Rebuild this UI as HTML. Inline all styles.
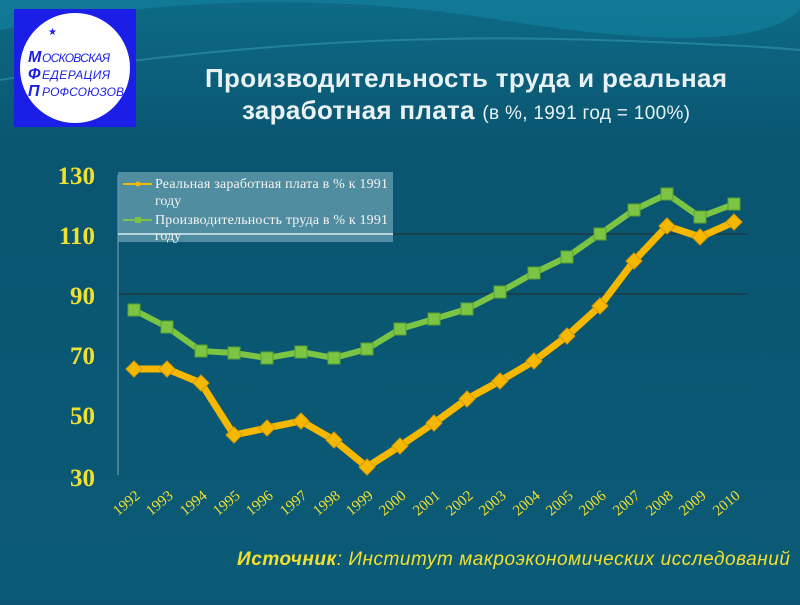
<!DOCTYPE html>
<html><head><meta charset="utf-8"><style>
body{margin:0;width:800px;height:600px;overflow:hidden;background:#0b5573;font-family:"Liberation Sans",sans-serif}
</style></head><body>
<svg width="800" height="600" xmlns="http://www.w3.org/2000/svg">
<defs>
<linearGradient id="bg" x1="0" y1="0" x2="0" y2="1"><stop offset="0" stop-color="#0d6a86"/><stop offset="0.25" stop-color="#0a5570"/><stop offset="1" stop-color="#0b5a76"/></linearGradient>
</defs>
<rect width="800" height="600" fill="url(#bg)"/>
<path d="M0 30 Q250 -20 500 20 T800 10 L800 0 L0 0Z" fill="#1483a0" opacity="0.6"/>
<path d="M0 80 Q300 30 600 40 T800 60" stroke="#3aa0b8" stroke-width="2" fill="none" opacity="0.5"/>
<rect x="14" y="9" width="122" height="118" fill="#1a1ee6"/>
<circle cx="75" cy="68" r="55" fill="#fff"/>
<text x="48" y="35" fill="#1a1ee6" font-size="10">★</text>
<text x="28" y="62" fill="#1a1ee6" font-size="16" font-weight="bold" font-style="italic">М</text><text x="42" y="62" fill="#1a1ee6" font-size="12" font-style="italic" textLength="68">ОСКОВСКАЯ</text>
<text x="28" y="79" fill="#1a1ee6" font-size="16" font-weight="bold" font-style="italic">Ф</text><text x="42" y="79" fill="#1a1ee6" font-size="12" font-style="italic" textLength="68">ЕДЕРАЦИЯ</text>
<text x="28" y="96" fill="#1a1ee6" font-size="16" font-weight="bold" font-style="italic">П</text><text x="42" y="96" fill="#1a1ee6" font-size="12" font-style="italic" textLength="82">РОФСОЮЗОВ</text>
<text x="205" y="87" fill="#e8f2f4" font-size="26" font-weight="bold" textLength="522">Производительность труда и реальная</text>
<text x="242" y="119" fill="#e8f2f4" font-size="26" font-weight="bold" textLength="448">заработная плата <tspan font-weight="normal" font-size="19">(в %, 1991 год = 100%)</tspan></text>
<line x1="118" y1="234" x2="748" y2="234" stroke="#1c3a44" stroke-width="1.5"/>
<line x1="118" y1="294" x2="748" y2="294" stroke="#1c3a44" stroke-width="1.5"/>
<line x1="118" y1="175" x2="118" y2="475" stroke="#7fa8b6" stroke-width="1"/>
<g fill="#f0e030" font-family="Liberation Serif,serif" font-size="25" font-weight="bold" text-anchor="end">
<text x="95" y="184">130</text><text x="95" y="244">110</text><text x="95" y="304">90</text><text x="95" y="364">70</text><text x="95" y="424">50</text><text x="95" y="486">30</text></g>
<rect x="118" y="172" width="275" height="70" fill="#6aa0b0" opacity="0.75"/>
<line x1="118" y1="234" x2="393" y2="234" stroke="#d8eef2" stroke-width="1.5"/>
<line x1="123" y1="184" x2="152" y2="184" stroke="#f5b800" stroke-width="2"/><circle cx="138" cy="184" r="2.5" fill="#f5b800"/>
<line x1="123" y1="220" x2="152" y2="220" stroke="#7cc444" stroke-width="2"/><rect x="135" y="217" width="6" height="6" fill="#7cc444"/>
<g fill="#f4f4f4" font-family="Liberation Serif,serif" font-size="14"><text x="155" y="188" textLength="233">Реальная заработная плата в % к 1991</text><text x="155" y="205">году</text><text x="155" y="224" textLength="233">Производительность труда в % к 1991</text><text x="155" y="240">году</text></g>
<polyline fill="none" stroke="#7cc444" stroke-width="6" stroke-linejoin="round" points="134,310 167,327 201,351 234,353 267,358 301,352 334,358 367,349 400,329 434,319 467,309 500,292 534,273 567,257 600,234 634,210 667,194 700,217 734,204"/>
<g fill="#7cc444" stroke="#5aa030"><rect x="128" y="304" width="12" height="12"/><rect x="161" y="321" width="12" height="12"/><rect x="195" y="345" width="12" height="12"/><rect x="228" y="347" width="12" height="12"/><rect x="261" y="352" width="12" height="12"/><rect x="295" y="346" width="12" height="12"/><rect x="328" y="352" width="12" height="12"/><rect x="361" y="343" width="12" height="12"/><rect x="394" y="323" width="12" height="12"/><rect x="428" y="313" width="12" height="12"/><rect x="461" y="303" width="12" height="12"/><rect x="494" y="286" width="12" height="12"/><rect x="528" y="267" width="12" height="12"/><rect x="561" y="251" width="12" height="12"/><rect x="594" y="228" width="12" height="12"/><rect x="628" y="204" width="12" height="12"/><rect x="661" y="188" width="12" height="12"/><rect x="694" y="211" width="12" height="12"/><rect x="728" y="198" width="12" height="12"/></g>
<polyline fill="none" stroke="#f5b800" stroke-width="7" stroke-linejoin="round" points="134,369 167,369 201,383 234,435 267,428 301,421 334,440 367,467 400,446 434,423 467,399 500,381 534,361 567,336 600,306 634,261 667,226 700,237 734,222"/>
<g fill="#f5b800" stroke="#d89a00">
<path d="M134 361l8 8-8 8-8-8z"/><path d="M167 361l8 8-8 8-8-8z"/><path d="M201 375l8 8-8 8-8-8z"/><path d="M234 427l8 8-8 8-8-8z"/><path d="M267 420l8 8-8 8-8-8z"/><path d="M301 413l8 8-8 8-8-8z"/><path d="M334 432l8 8-8 8-8-8z"/><path d="M367 459l8 8-8 8-8-8z"/><path d="M400 438l8 8-8 8-8-8z"/><path d="M434 415l8 8-8 8-8-8z"/><path d="M467 391l8 8-8 8-8-8z"/><path d="M500 373l8 8-8 8-8-8z"/><path d="M534 353l8 8-8 8-8-8z"/><path d="M567 328l8 8-8 8-8-8z"/><path d="M600 298l8 8-8 8-8-8z"/><path d="M634 253l8 8-8 8-8-8z"/><path d="M667 218l8 8-8 8-8-8z"/><path d="M700 229l8 8-8 8-8-8z"/><path d="M734 214l8 8-8 8-8-8z"/></g>
<g fill="#f0e030" font-family="Liberation Serif,serif" font-size="15" text-anchor="end">
<text transform="translate(141,497) rotate(-40)">1992</text><text transform="translate(174,497) rotate(-40)">1993</text><text transform="translate(208,497) rotate(-40)">1994</text><text transform="translate(241,497) rotate(-40)">1995</text><text transform="translate(274,497) rotate(-40)">1996</text><text transform="translate(308,497) rotate(-40)">1997</text><text transform="translate(341,497) rotate(-40)">1998</text><text transform="translate(374,497) rotate(-40)">1999</text><text transform="translate(407,497) rotate(-40)">2000</text><text transform="translate(441,497) rotate(-40)">2001</text><text transform="translate(474,497) rotate(-40)">2002</text><text transform="translate(507,497) rotate(-40)">2003</text><text transform="translate(541,497) rotate(-40)">2004</text><text transform="translate(574,497) rotate(-40)">2005</text><text transform="translate(607,497) rotate(-40)">2006</text><text transform="translate(641,497) rotate(-40)">2007</text><text transform="translate(674,497) rotate(-40)">2008</text><text transform="translate(707,497) rotate(-40)">2009</text><text transform="translate(741,497) rotate(-40)">2010</text></g>
<text x="237" y="565" fill="#f0e030" font-size="19" font-style="italic" textLength="553"><tspan font-weight="bold">Источник</tspan>: Институт макроэкономических исследований</text>
</svg>
</body></html>
